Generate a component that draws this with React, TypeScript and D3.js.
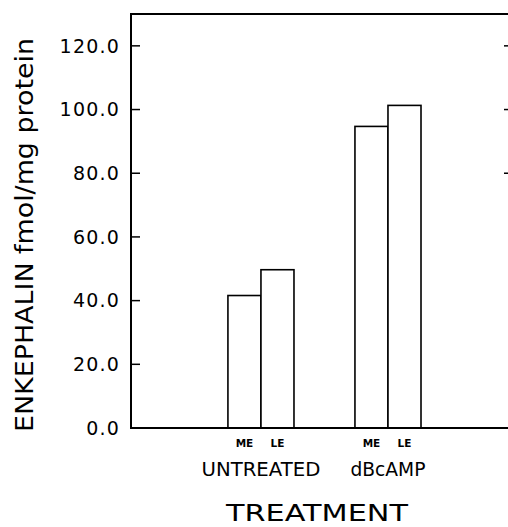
import React, { useEffect, useRef } from 'react';
import * as d3 from 'd3';

// values
const groups = ['UNTREATED', 'dBcAMP'];
const regions = ['ME', 'LE'];
const meValues = [41.6, 94.7];
const leValues = [49.7, 101.3];
const yTicks = [0, 20, 40, 60, 80, 100, 120];
const rightTicks = [80, 100, 120];

const width = 508;
const height = 527;
const font = "'DejaVu Sans', sans-serif";

export default function App() {
	const ref = useRef<SVGSVGElement>(null);

	useEffect(() => {
		const svg = d3.select(ref.current);
		svg.selectAll('*').remove();

		const left = 131;
		const right = 508;
		const top = 14;
		const bottom = 428;

		const yScale = d3.scaleLinear().domain([0, 130]).range([bottom, top]);
		const xScale = d3
			.scaleBand()
			.domain(groups)
			.range([left, right])
			.paddingInner(0.48)
			.paddingOuter(0.724)
			.align(0.527);
		const subScale = d3.scaleBand().domain(regions).range([0, xScale.bandwidth()]);

		const data = groups.flatMap((g, i) => [
			{ group: g, region: 'ME', value: meValues[i] },
			{ group: g, region: 'LE', value: leValues[i] },
		]);

		const g = svg.append('g');

		// bars
		g.selectAll('rect.bar')
			.data(data)
			.enter()
			.append('rect')
			.attr('class', 'bar')
			.attr('x', d => (xScale(d.group) as number) + (subScale(d.region) as number))
			.attr('y', d => yScale(d.value))
			.attr('width', subScale.bandwidth())
			.attr('height', d => yScale(0) - yScale(d.value))
			.attr('fill', 'white')
			.attr('stroke', 'black')
			.attr('stroke-width', 1.6);

		// frame: left, top, bottom
		g.append('path')
			.attr('d', `M${right},${top}H${left}V${bottom}H${right}`)
			.attr('fill', 'none')
			.attr('stroke', 'black')
			.attr('stroke-width', 2);

		// y ticks
		g.selectAll('line.ytick')
			.data(yTicks)
			.enter()
			.append('line')
			.attr('x1', left)
			.attr('x2', left + 9)
			.attr('y1', d => yScale(d))
			.attr('y2', d => yScale(d))
			.attr('stroke', 'black')
			.attr('stroke-width', 1.5);

		g.selectAll('line.rtick')
			.data(rightTicks)
			.enter()
			.append('line')
			.attr('x1', right - 4)
			.attr('x2', right)
			.attr('y1', d => yScale(d))
			.attr('y2', d => yScale(d))
			.attr('stroke', 'black')
			.attr('stroke-width', 1.5);

		g.selectAll('text.ylab')
			.data(yTicks)
			.enter()
			.append('text')
			.attr('x', 120)
			.attr('y', d => yScale(d))
			.attr('dy', '0.36em')
			.attr('text-anchor', 'end')
			.attr('font-family', font)
			.attr('font-size', 19)
			.attr('letter-spacing', 1.2)
			.text(d => d.toFixed(1));

		// ME / LE labels
		g.selectAll('text.sub')
			.data(data)
			.enter()
			.append('text')
			.attr('x', d => (xScale(d.group) as number) + (subScale(d.region) as number) + subScale.bandwidth() / 2)
			.attr('y', 447)
			.attr('text-anchor', 'middle')
			.attr('font-family', font)
			.attr('font-weight', 'bold')
			.attr('font-size', 10.5)
			.text(d => d.region);

		// group labels
		g.selectAll('text.group')
			.data(groups)
			.enter()
			.append('text')
			.attr('x', d => (xScale(d) as number) + xScale.bandwidth() / 2)
			.attr('y', 476)
			.attr('text-anchor', 'middle')
			.attr('font-family', font)
			.attr('font-size', 19)
			.attr('textLength', d => (d === 'UNTREATED' ? 119 : 75))
			.attr('lengthAdjust', 'spacingAndGlyphs')
			.text(d => d);

		// axis titles
		g.append('text')
			.attr('x', 317)
			.attr('y', 521)
			.attr('text-anchor', 'middle')
			.attr('font-family', font)
			.attr('font-size', 23)
			.attr('textLength', 182)
			.attr('lengthAdjust', 'spacingAndGlyphs')
			.text('TREATMENT');

		g.append('text')
			.attr('transform', 'translate(33,235) rotate(-90)')
			.attr('text-anchor', 'middle')
			.attr('font-family', font)
			.attr('font-size', 25)
			.attr('textLength', 394)
			.attr('lengthAdjust', 'spacingAndGlyphs')
			.text('ENKEPHALIN fmol/mg protein');
	}, []);

	return (
		<svg
			ref={ref}
			width={width}
			height={height}
			style={{ position: 'absolute', left: 0, top: 0, background: 'white' }}
		/>
	);
}
